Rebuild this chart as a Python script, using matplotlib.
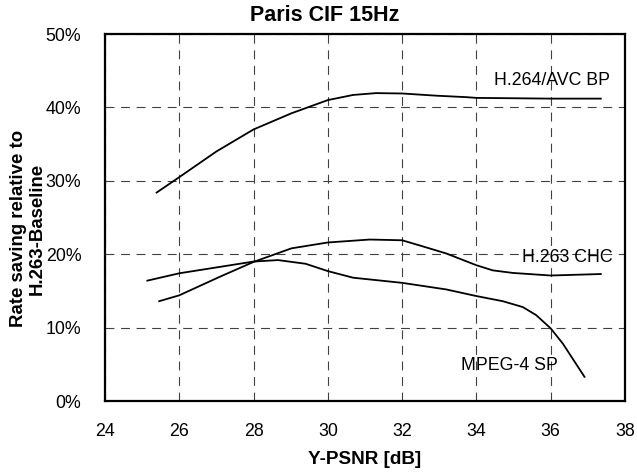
import matplotlib
matplotlib.use('Agg')
import matplotlib.pyplot as plt

plt.rcParams['font.family'] = ['Liberation Sans', 'DejaVu Sans']

# Y-PSNR [dB] vs rate saving [%]
h264_x = [25.39, 26.0, 27.0, 28.0, 29.02, 30.0, 30.68, 31.3, 32.0, 32.92, 33.73, 34.0, 36.0, 37.35]
h264_y = [28.4, 30.5, 34.0, 37.0, 39.2, 41.0, 41.7, 41.95, 41.9, 41.6, 41.4, 41.3, 41.2, 41.2]

h263_x = [25.46, 26.0, 27.08, 28.0, 29.02, 30.0, 31.13, 32.0, 32.47, 33.19, 34.0, 34.44, 34.98, 36.0, 37.35]
h263_y = [13.6, 14.4, 16.9, 18.95, 20.8, 21.6, 22.0, 21.9, 21.2, 20.1, 18.5, 17.8, 17.45, 17.1, 17.3]

mpeg4_x = [25.14, 26.0, 27.0, 28.0, 28.66, 29.4, 30.0, 30.68, 32.0, 33.19, 34.0, 34.71, 35.25, 35.61, 36.0, 36.33, 36.91]
mpeg4_y = [16.4, 17.4, 18.2, 19.0, 19.2, 18.7, 17.7, 16.8, 16.1, 15.2, 14.3, 13.6, 12.8, 11.7, 9.9, 7.8, 3.3]

xticks = [24, 26, 28, 30, 32, 34, 36, 38]
yticks = [0, 10, 20, 30, 40, 50]
ytick_labels = ['0%', '10%', '20%', '30%', '40%', '50%']

fig = plt.figure(figsize=(6.37, 4.72), dpi=100)
ax = fig.add_axes([0.1648, 0.1504, 0.8163, 0.7775])

for xs, ys in [(h264_x, h264_y), (h263_x, h263_y), (mpeg4_x, mpeg4_y)]:
    ax.plot(xs, ys, color='black', linewidth=1.3, zorder=3)

ax.text(34.48, 43.7, 'H.264/AVC BP', fontsize=12.8, va='center', ha='left', zorder=4)
ax.text(35.23, 19.6, 'H.263 CHC', fontsize=12.8, va='center', ha='left', zorder=4)
ax.text(33.59, 4.8, 'MPEG-4 SP', fontsize=12.8, va='center', ha='left', zorder=4)

ax.set_xlim(24, 38)
ax.set_ylim(0, 50)
ax.set_xticks(xticks)
ax.set_yticks(yticks)
ax.set_yticklabels(ytick_labels)
ax.tick_params(axis='both', length=0, labelsize=12.8)
ax.tick_params(axis='x', pad=16)
ax.tick_params(axis='y', pad=17)

ax.grid(True, linestyle=(0, (8, 6)), color='#404040', linewidth=0.8)
for s in ax.spines.values():
    s.set_linewidth(1.6)

ax.set_xlabel('Y-PSNR [dB]', fontsize=13.6, fontweight='bold', labelpad=8)
ax.set_ylabel('Rate saving relative to\nH.263-Baseline', fontsize=13.4,
              fontweight='bold', linespacing=1.15)
ax.yaxis.set_label_coords(-0.114, 0.469)

fig.text(0.51, 0.968, 'Paris CIF 15Hz', fontsize=15.5, fontweight='bold',
         ha='center', va='center')

fig.savefig('out.png', dpi=100)
